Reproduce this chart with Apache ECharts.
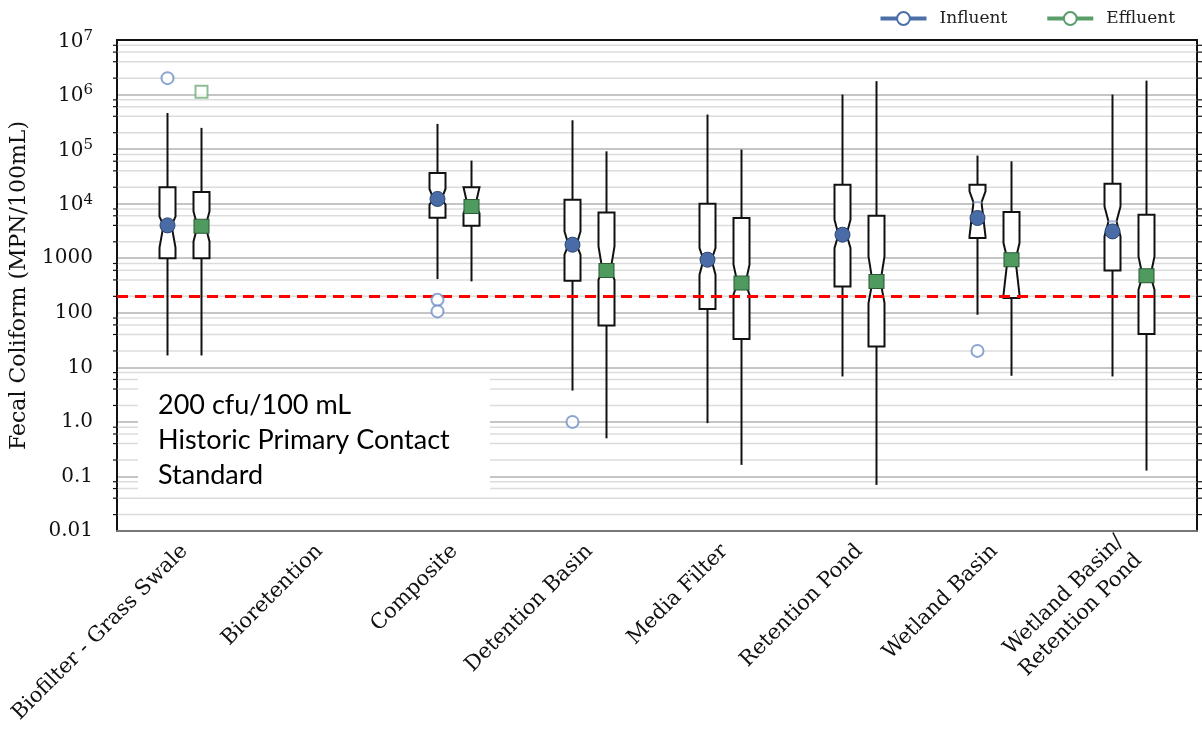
<!DOCTYPE html>
<html>
<head>
<meta charset="utf-8">
<title>Fecal Coliform by BMP category</title>
<script src="https://cdn.jsdelivr.net/npm/echarts@6/dist/echarts.min.js"></script>
<style>
  html, body { margin: 0; padding: 0; background: #fff; }
  #chart { width: 1202px; height: 737px; }
</style>
</head>
<body>
<div id="chart"></div>
<script>
// x categories
const categories = [
  'Biofilter - Grass Swale',
  'Bioretention',
  'Composite',
  'Detention Basin',
  'Media Filter',
  'Retention Pond',
  'Wetland Basin',
  'Wetland Basin/\nRetention Pond'
]

// [category index, whisker low, Q1, notch low, median, notch high, Q3, whisker high]
const influentBoxes = [
  [0, 16.5, 1000, 1560, 4000, 5800, 20000, 460000],
  [2, 415, 5500, 9600, 12200, 18600, 36600, 290000],
  [3, 3.75, 386, 1160, 1770, 3100, 11800, 338000],
  [4, 0.95, 117, 500, 940, 1540, 10000, 430000],
  [5, 6.8, 304, 1540, 2700, 5080, 22300, 1000000],
  [6, 92, 2340, 2510, 10600, 16800, 22300, 76000],
  [7, 6.8, 597, 2510, 4730, 8900, 23300, 1000000]
]
const effluentBoxes = [
  [0, 16.5, 1000, 2030, 3840, 7200, 16400, 245000],
  [2, 376, 3950, 6700, 9500, 20000, 20000, 61500],
  [3, 0.5, 58.5, 403, 597, 1650, 6900, 91000],
  [4, 0.163, 32.9, 214, 350, 760, 5460, 98000],
  [5, 0.07, 24, 150, 376, 1080, 6020, 1760000],
  [6, 7.0, 186, 214, 940, 1900, 7030, 59700],
  [7, 0.128, 41, 264, 477, 1080, 6280, 1800000]
]

// filled marker on each box: [category index, value]
const influentMarkers = [[0, 4000], [2, 12200], [3, 1770], [4, 940], [5, 2700], [6, 5460], [7, 3100]]
const effluentMarkers = [[0, 3840], [2, 8900], [3, 597], [4, 350], [5, 376], [6, 940], [7, 477]]

// outliers: [category index, value]
const influentOutliers = [[0, 2000000], [2, 173], [2, 106], [3, 1.0], [6, 20]]
const effluentOutliers = [[0, 1130000]]

// contact standard
const standardValue = 200

// y tick labels by exponent
const yTickLabels = {
  '-2': '0.01', '-1': '0.1', '0': '1.0', '1': '10', '2': '100', '3': '1000',
  '4': '{b|10}{s|4}', '5': '{b|10}{s|5}', '6': '{b|10}{s|6}', '7': '{b|10}{s|7}'
}

// light grid lines at 2, 4, 6, 8 of every decade
const minorSteps = [2, 4, 6, 8]
const minorValues = []
for (let k = -2; k < 7; k++) {
  minorSteps.forEach(m => minorValues.push([0, m * Math.pow(10, k)]))
}

const serif = 'DejaVu Serif'
const boxOffset = 17

function boxRenderer(offset, medianColor) {
  return function (params, api) {
    const ci = api.value(0)
    const x = api.coord([ci, api.value(4)])[0] + offset
    const y = i => api.coord([ci, api.value(i)])[1]
    const wl = y(1), q1 = y(2), nl = y(3), md = y(4), nh = y(5), q3 = y(6), wh = y(7)
    const w = 8, hw = 4
    const stroke = { stroke: '#111', lineWidth: 2 }
    return {
      type: 'group',
      children: [
        { type: 'line', shape: { x1: x, y1: q3, x2: x, y2: wh }, style: stroke },
        { type: 'line', shape: { x1: x, y1: q1, x2: x, y2: wl }, style: stroke },
        {
          type: 'polygon',
          shape: {
            points: [[x - w, q3], [x + w, q3], [x + w, nh], [x + hw, md], [x + w, nl], [x + w, q1],
              [x - w, q1], [x - w, nl], [x - hw, md], [x - w, nh]]
          },
          style: { fill: '#fff', stroke: '#111', lineWidth: 2, lineJoin: 'miter' }
        },
        { type: 'line', shape: { x1: x - hw, y1: md, x2: x + hw, y2: md }, style: { stroke: medianColor, lineWidth: 2 } }
      ]
    }
  }
}

function minorRenderer(params, api) {
  const y = api.coord([0, api.value(1)])[1]
  const cs = params.coordSys
  return {
    type: 'group',
    children: [
      { type: 'line', shape: { x1: cs.x, y1: y, x2: cs.x + cs.width, y2: y }, style: { stroke: '#dcdcdc', lineWidth: 1.5 } },
      { type: 'line', shape: { x1: cs.x - 4, y1: y, x2: cs.x + 1, y2: y }, style: { stroke: '#111', lineWidth: 1.2 } },
      { type: 'line', shape: { x1: cs.x + cs.width - 1, y1: y, x2: cs.x + cs.width + 5, y2: y }, style: { stroke: '#111', lineWidth: 1.2 } }
    ]
  }
}

const chart = echarts.init(document.getElementById('chart'))
const option = {
  animation: false,
  backgroundColor: '#fff',
  grid: { left: 117, right: 5, top: 40, bottom: 206 },
  legend: {
    data: ['Influent', 'Effluent'],
    right: 22,
    top: 5,
    itemWidth: 46,
    itemHeight: 16,
    itemGap: 38,
    lineStyle: { width: 4 },
    itemStyle: { borderWidth: 3 },
    textStyle: { fontFamily: serif, fontSize: 17, color: '#222', padding: [0, 0, 0, 8] }
  },
  xAxis: [
    {
      type: 'category',
      data: categories,
      boundaryGap: true,
      axisLine: { onZero: false, lineStyle: { color: '#777', width: 2 } },
      axisTick: { alignWithLabel: true, length: 10, lineStyle: { color: '#333', width: 1.2 } },
      axisLabel: { interval: 0, rotate: 45, margin: 17, fontFamily: serif, fontSize: 21, color: '#111', lineHeight: 26 },
      splitLine: { show: false }
    },
    {
      type: 'category',
      data: categories,
      position: 'top',
      boundaryGap: true,
      axisLine: { onZero: false, lineStyle: { color: '#111', width: 2 } },
      axisTick: { alignWithLabel: true, length: 10, lineStyle: { color: '#333', width: 1.2 } },
      axisLabel: { show: false },
      splitLine: { show: false }
    }
  ],
  yAxis: [
    {
      type: 'log',
      logBase: 10,
      min: 0.01,
      max: 1e7,
      name: 'Fecal Coliform (MPN/100mL)',
      nameLocation: 'middle',
      nameGap: 87,
      nameTextStyle: { fontFamily: serif, fontSize: 22, color: '#111' },
      axisLine: { show: true, lineStyle: { color: '#111', width: 2 } },
      axisTick: { length: 10, lineStyle: { color: '#111', width: 1.5 } },
      axisLabel: {
        margin: 24,
        fontFamily: serif,
        fontSize: 20,
        color: '#111',
        formatter: v => yTickLabels[String(Math.round(Math.log10(v)))] || '',
        rich: {
          b: { fontFamily: serif, fontSize: 20, color: '#111', verticalAlign: 'bottom' },
          s: { fontFamily: serif, fontSize: 15, color: '#111', verticalAlign: 'top', padding: [0, 0, 8, 0] }
        }
      },
      splitLine: { show: true, lineStyle: { color: '#b2b2b2', width: 1.5 } }
    },
    {
      type: 'log',
      logBase: 10,
      min: 0.01,
      max: 1e7,
      position: 'right',
      axisLine: { show: true, lineStyle: { color: '#111', width: 2 } },
      axisTick: { length: 6, lineStyle: { color: '#111', width: 1.5 } },
      axisLabel: { show: false },
      splitLine: { show: false }
    }
  ],
  series: [
    {
      name: 'minor grid',
      type: 'custom',
      silent: true,
      z: 1,
      renderItem: minorRenderer,
      data: minorValues
    },
    {
      name: 'Influent box',
      type: 'custom',
      z: 3,
      renderItem: boxRenderer(-boxOffset, '#9fb4d8'),
      data: influentBoxes
    },
    {
      name: 'Effluent box',
      type: 'custom',
      z: 3,
      renderItem: boxRenderer(boxOffset, '#92c79f'),
      data: effluentBoxes
    },
    {
      name: 'Influent mark',
      type: 'scatter',
      z: 5,
      symbol: 'circle',
      symbolSize: 15,
      symbolOffset: [-boxOffset, 0],
      itemStyle: { color: '#4a6ca6', borderColor: '#2a4272', borderWidth: 1, opacity: 1 },
      data: influentMarkers,
      markLine: {
        silent: true,
        symbol: 'none',
        label: { show: false },
        lineStyle: { color: '#ff0000', type: [11, 7], width: 3 },
        data: [{ yAxis: standardValue }]
      }
    },
    {
      name: 'Effluent mark',
      type: 'scatter',
      z: 5,
      symbol: 'rect',
      symbolSize: [15, 14],
      symbolOffset: [boxOffset, 0],
      itemStyle: { color: '#4f9a5f', borderColor: '#2b5a35', borderWidth: 1, opacity: 1 },
      data: effluentMarkers
    },
    {
      name: 'Influent outliers',
      type: 'scatter',
      z: 5,
      symbol: 'emptyCircle',
      symbolSize: 12,
      symbolOffset: [-boxOffset, 0],
      itemStyle: { color: '#6f8fc6', borderWidth: 1.5 },
      data: influentOutliers
    },
    {
      name: 'Effluent outliers',
      type: 'scatter',
      z: 5,
      symbol: 'emptyRect',
      symbolSize: 12,
      symbolOffset: [boxOffset, 0],
      itemStyle: { color: '#6fae7c', borderWidth: 1.5 },
      data: effluentOutliers
    },
    {
      name: 'Influent',
      type: 'line',
      data: [],
      color: '#4c6fa8',
      symbol: 'emptyCircle',
      symbolSize: 14,
      lineStyle: { width: 4 },
      itemStyle: { borderWidth: 3 }
    },
    {
      name: 'Effluent',
      type: 'line',
      data: [],
      color: '#5a9e6a',
      symbol: 'emptyCircle',
      symbolSize: 14,
      lineStyle: { width: 4 },
      itemStyle: { borderWidth: 3 }
    }
  ],
  graphic: [
    {
      type: 'rect',
      left: 138,
      top: 376,
      z: 100,
      shape: { width: 352, height: 118 },
      style: { fill: '#fff' }
    },
    {
      type: 'text',
      left: 158,
      top: 388,
      z: 101,
      style: {
        text: '200 cfu/100 mL\nHistoric Primary Contact\nStandard',
        font: '27px Lato',
        fill: '#000',
        lineHeight: 35
      }
    }
  ]
}
chart.setOption(option)
</script>
</body>
</html>
